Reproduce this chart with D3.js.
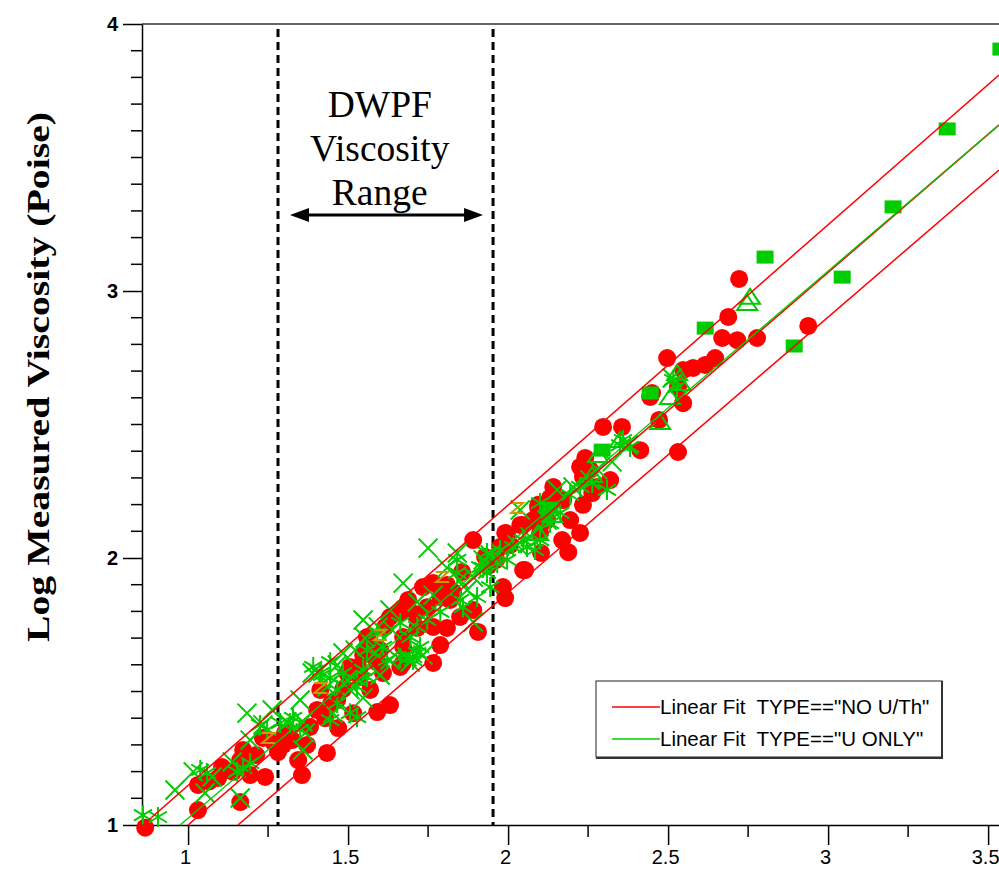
<!DOCTYPE html>
<html><head><meta charset="utf-8">
<script src="https://cdn.jsdelivr.net/npm/d3@7"></script>
<style>html,body{margin:0;padding:0;background:#fff;}svg{display:block;}</style>
</head><body>
<svg id="chart" width="999" height="871"></svg>
<script>
// ---------------- DATA ----------------
const xMajorTicks = [1, 1.5, 2, 2.5, 3, 3.5];
const xMinorTicks = [1.25, 1.75, 2.25, 2.75, 3.25];
const yMajorTicks = [1, 2, 3, 4];
const yMinorTicks = [1.1,1.2,1.3,1.4,1.5,1.6,1.7,1.8,1.9,2.1,2.2,2.3,2.4,2.5,2.6,2.7,2.8,2.9,3.1,3.2,3.3,3.4,3.5,3.6,3.7,3.8,3.9];
const yTitle = "Log Measured Viscosity (Poise)";
const annotationLines = ["DWPF", "Viscosity", "Range"];
const dwpfRange = [1.281, 1.953];
const legendLabels = ['Linear Fit  TYPE=="NO U/Th"', 'Linear Fit  TYPE=="U ONLY"'];

// red filled circles (TYPE == "NO U/Th")
const redCircles = [
[0.866,0.99],[1.031,1.056],[1.031,1.15],[1.106,1.217],[1.163,1.086],[1.172,1.281],[1.194,1.187],[1.241,1.18],[1.163,1.243],[1.281,1.273],[1.297,1.30],[1.356,1.187],[1.434,1.27],[1.234,1.326],[1.266,1.311],[1.413,1.506],[1.466,1.468],[1.403,1.431],[1.428,1.40],[1.469,1.363],[1.516,1.419],[1.591,1.423],[1.631,1.449],[1.569,1.506],[1.538,1.554],[1.609,1.569],[1.672,1.607],[1.766,1.607],[1.506,1.592],[1.891,2.067],[2.044,2.124],[1.991,2.094],[2.006,2.049],[2.078,2.142],[2.094,2.187],[2.141,2.266],[2.053,1.955],[1.984,1.891],[1.991,1.85],[1.734,1.891],[1.766,1.906],[1.809,1.899],[1.828,1.873],[1.819,1.843],[1.788,1.854],[1.688,1.843],[1.672,1.813],[1.663,1.794],[1.747,1.816],[1.85,1.779],[1.891,1.805],[1.906,1.723],[1.809,1.738],[1.766,1.742],[1.716,1.738],[1.631,1.779],[1.616,1.742],[1.672,1.704],[1.559,1.704],[1.563,1.682],[1.60,1.655],[1.672,1.667],[1.788,1.674],[1.531,1.592],[1.497,1.569],[1.663,1.592],[1.547,1.637],
[2.297,2.491],[2.356,2.491],[2.413,2.404],[2.531,2.397],[2.547,2.58],[2.45,2.618],[2.472,2.517],[2.241,2.375],[2.225,2.341],[2.256,2.33],[2.234,2.303],[2.319,2.292],[2.278,2.266],[2.094,2.199],[2.131,2.225],[2.038,2.124],[1.997,2.086],[1.975,2.041],[2.225,2.094],[2.188,2.022],[2.047,1.955],[1.928,2.004],[2.10,2.094],[2.122,2.142],
[2.497,2.749],[2.688,2.903],[2.722,3.045],[2.669,2.824],[2.716,2.816],[2.778,2.824],[2.938,2.869],[2.647,2.749],[2.616,2.723],[2.578,2.712],[2.547,2.704],[2.531,2.64],[2.444,2.603],
[1.856,1.948],[1.938,1.97],[1.963,1.993],[2.103,2.019],[2.169,2.067],[2.194,2.142],[2.234,2.199],[2.263,2.243],[2.172,2.217],
[1.094,1.176],[1.141,1.199],[1.325,1.318],[1.381,1.367],[1.344,1.243],[1.372,1.30],
[1.066,1.163],[1.213,1.262],[1.303,1.345],[1.447,1.455],[1.485,1.51],[1.59,1.61],[1.709,1.79]
];

// green crosses
const greenCrosses = [
[1.053,1.12],[1.163,1.101],[1.016,1.199],[1.075,1.18],[1.138,1.236],[1.184,1.419],[1.194,1.318],[1.234,1.375],[1.359,1.281],[1.366,1.345],[1.406,1.569],[1.434,1.517],[1.466,1.599],[1.497,1.543],[1.547,1.476],[1.359,1.386],[1.309,1.386],[1.453,1.419],[1.506,1.506],[1.60,1.562],[1.631,1.618],[1.684,1.629],[1.734,1.637],[1.75,2.037],[1.841,2.019],[1.809,1.963],[1.944,2.011],[1.922,1.993],[1.891,1.929],[1.766,1.861],[1.716,1.835],[1.631,1.805],[1.872,1.88],[1.891,1.76],[1.594,1.742],[1.547,1.768],[1.638,1.73],[1.553,1.70],[1.484,1.644],[1.584,1.644],[1.388,1.569],[1.694,1.61],[2.153,2.255],[2.203,2.266],[2.122,2.142],[2.069,2.079],[2.028,2.049],[2.513,2.674],
[0.959,1.131],[1.263,1.431],[1.35,1.468],[1.522,1.655],[1.672,1.906],[1.85,1.918],[2.038,2.18],[2.256,2.292],[2.281,2.33],[2.325,2.36],[2.375,2.423]
];

// green asterisks
const greenStars = [
[0.859,1.037],[0.906,1.03],[1.038,1.206],[1.059,1.195],[1.153,1.199],[1.172,1.213],[1.194,1.232],[1.247,1.356],[1.225,1.375],[1.288,1.382],[1.319,1.382],[1.328,1.401],[1.35,1.356],[1.419,1.562],[1.444,1.551],[1.484,1.569],[1.528,1.543],[1.559,1.554],[1.547,1.581],[1.528,1.517],[1.466,1.506],[1.466,1.457],[1.506,1.419],[1.444,1.393],[1.528,1.404],[1.663,1.625],[1.703,1.618],[1.716,1.644],[1.841,1.993],[1.841,1.944],[1.934,2.019],[1.966,1.981],[1.934,1.944],[1.944,1.891],[1.903,1.854],[1.85,1.843],[1.859,1.816],[1.788,1.798],[1.747,1.768],[1.716,1.742],[1.663,1.757],[1.591,1.719],[1.694,1.704],[1.725,1.667],[1.609,1.667],[1.559,1.655],[1.622,1.618],[1.444,1.61],[1.391,1.592],[1.413,1.569],[1.703,1.629],[1.913,1.966],[1.975,2.03],[1.997,1.993],[2.059,2.041],[2.10,2.067],[2.122,2.154],[2.10,2.206],[2.359,2.442],[2.381,2.416],[2.35,2.423],[2.309,2.255],[2.263,2.281],[2.225,2.266],[2.194,2.236],[2.163,2.169],[2.131,2.131],[2.084,2.03],[2.047,2.067],[2.016,2.041],[1.922,1.963],[2.516,2.667],[2.528,2.64]
];

// green filled squares
const greenSquares = [
[3.54,3.906],[3.372,3.607],[3.203,3.315],[3.044,3.052],[2.803,3.127],[2.894,2.794],[2.616,2.861],[2.444,2.618],[2.294,2.404],[2.131,2.187]
];

// green open triangles
const greenTriangles = [
[2.756,2.978],[2.747,2.955],[2.528,2.693],[2.538,2.655],[2.506,2.603],[2.475,2.509],[2.281,2.386],[2.263,2.311],[2.094,2.094],[2.35,2.442],[2.138,2.161]
];

// orange "Z" markers
const orangeZ = [
[2.028,2.187],[1.794,1.929],[1.60,1.712],[1.413,1.513],[1.25,1.326]
];

// fit lines (endpoints in data units)
const redFitUpper  = [[0.859,1.0],[3.534,3.809]];
const redFitCenter = [[1.0,1.0],[3.534,3.622]];
const redFitLower  = [[1.156,1.0],[3.534,3.453]];
const greenFit     = [[0.975,1.0],[3.534,3.622]];

// ---------------- DRAW ----------------
(function(){
const svg = d3.select("#chart");
const pL = 142, pR = 999, pT = 24, pB = 825;
const x = d3.scaleLinear().domain([0.856, 3.534]).range([pL, pR]);
const y = d3.scaleLinear().domain([1, 4]).range([pB, pT]);

const RED = "#ff0000", GREEN = "#00cc00", GOLD = "#cc9900";

svg.append("defs").append("clipPath").attr("id","plotclip")
  .append("rect").attr("x",pL).attr("y",pT).attr("width",pR-pL).attr("height",pB-pT);

// top frame line
svg.append("line").attr("x1",pL).attr("x2",pR).attr("y1",pT).attr("y2",pT)
  .attr("stroke","#333").attr("stroke-width",1.5);

// x axis (major ticks + labels)
const xAxisG = svg.append("g").attr("transform",`translate(0,${pB})`)
  .call(d3.axisBottom(x).tickValues(xMajorTicks).tickSize(20).tickSizeOuter(0).tickPadding(5).tickFormat(d3.format("")));
xAxisG.selectAll("path.domain").attr("stroke","#000").attr("stroke-width",1.5);
xAxisG.selectAll(".tick line").attr("stroke","#000").attr("stroke-width",1.5);
xAxisG.selectAll("text").attr("font-family","'Liberation Sans', Arial, sans-serif").attr("font-size",20).attr("fill","#000").attr("dx",-3);
// x minor ticks
svg.selectAll("line.xminor").data(xMinorTicks).enter().append("line").attr("class","xminor")
  .attr("x1",d=>x(d)).attr("x2",d=>x(d)).attr("y1",pB).attr("y2",pB+12)
  .attr("stroke","#000").attr("stroke-width",1.5);

// y axis
const yAxisG = svg.append("g").attr("transform",`translate(${pL},0)`)
  .call(d3.axisLeft(y).tickValues(yMajorTicks).tickSize(19).tickSizeOuter(0).tickPadding(5).tickFormat(d3.format("d")));
yAxisG.selectAll("path.domain").attr("stroke","#000").attr("stroke-width",1.5);
yAxisG.selectAll(".tick line").attr("stroke","#000").attr("stroke-width",1.5);
yAxisG.selectAll("text").attr("font-family","'Liberation Sans', Arial, sans-serif").attr("font-size",20).attr("font-weight","bold").attr("fill","#000");
svg.selectAll("line.yminor").data(yMinorTicks).enter().append("line").attr("class","yminor")
  .attr("x1",pL-11).attr("x2",pL).attr("y1",d=>y(d)).attr("y2",d=>y(d))
  .attr("stroke","#000").attr("stroke-width",1.5);

// y title
svg.append("text")
  .attr("transform",`translate(49,377) rotate(-90)`)
  .attr("text-anchor","middle")
  .attr("font-family","'Liberation Serif', 'Times New Roman', serif")
  .attr("font-weight","bold").attr("font-size",32)
  .attr("textLength",530).attr("lengthAdjust","spacingAndGlyphs")
  .text(yTitle);

// dashed DWPF range lines
svg.selectAll("line.dwpf").data(dwpfRange).enter().append("line")
  .attr("class","dwpf")
  .attr("x1",d=>x(d)).attr("x2",d=>x(d)).attr("y1",pT+5).attr("y2",pB)
  .attr("stroke","#000").attr("stroke-width",3).attr("stroke-dasharray","8,5");

// annotation text
const annoX = (dwpfRange[0]+dwpfRange[1])/2 - 0.018;
svg.selectAll("text.anno").data(annotationLines).enter().append("text")
  .attr("class","anno")
  .attr("x",x(annoX)).attr("y",(d,i)=>117+i*44)
  .attr("text-anchor","middle")
  .attr("font-family","'Liberation Serif', 'Times New Roman', serif")
  .attr("font-size",37.5).attr("fill","#000").text(d=>d);

// double arrow
const ay = 215;
const ax1 = x(dwpfRange[0]) + 12, ax2 = x(dwpfRange[1]) - 10;
svg.append("line").attr("x1",ax1+10).attr("x2",ax2-10).attr("y1",ay).attr("y2",ay)
  .attr("stroke","#000").attr("stroke-width",3);
svg.append("path").attr("d",`M${ax1},${ay}L${ax1+19},${ay-7}L${ax1+19},${ay+7}Z`).attr("fill","#000");
svg.append("path").attr("d",`M${ax2},${ay}L${ax2-19},${ay-7}L${ax2-19},${ay+7}Z`).attr("fill","#000");

// markers
const gm = svg.append("g");
gm.selectAll("circle.red").data(redCircles).enter().append("circle")
  .attr("class","red").attr("cx",d=>x(d[0])).attr("cy",d=>y(d[1])).attr("r",9).attr("fill",RED);

gm.selectAll("rect.sq").data(greenSquares).enter().append("rect")
  .attr("class","sq").attr("x",d=>x(d[0])-8.5).attr("y",d=>y(d[1])-6.5).attr("width",17).attr("height",13).attr("fill",GREEN);

gm.selectAll("path.tri").data(greenTriangles).enter().append("path")
  .attr("class","tri").attr("transform",d=>`translate(${x(d[0])},${y(d[1])})`)
  .attr("d","M0,-8L10,7L-10,7Z").attr("fill","none").attr("stroke",GREEN).attr("stroke-width",2);

gm.selectAll("path.cross").data(greenCrosses).enter().append("path")
  .attr("class","cross").attr("transform",d=>`translate(${x(d[0])},${y(d[1])})`)
  .attr("d","M-9.5,-9.5L9.5,9.5M-9.5,9.5L9.5,-9.5").attr("stroke",GREEN).attr("stroke-width",2).attr("fill","none");

gm.selectAll("path.star").data(greenStars).enter().append("path")
  .attr("class","star").attr("transform",d=>`translate(${x(d[0])},${y(d[1])})`)
  .attr("d","M0,-10V10M-9,-5.5L9,5.5M-9,5.5L9,-5.5").attr("stroke",GREEN).attr("stroke-width",2).attr("fill","none");

gm.selectAll("path.z").data(orangeZ).enter().append("path")
  .attr("class","z").attr("transform",d=>`translate(${x(d[0])},${y(d[1])})`)
  .attr("d","M-6,-5H6L-6,5H7").attr("stroke",GOLD).attr("stroke-width",2).attr("fill","none");

// fit lines
const line = d3.line().x(d=>x(d[0])).y(d=>y(d[1]));
const gl = svg.append("g").attr("clip-path","url(#plotclip)");
[redFitUpper, redFitCenter, redFitLower].forEach(f=>{
  gl.append("path").attr("d",line(f)).attr("stroke",RED).attr("stroke-width",1.5).attr("fill","none");
});
gl.append("path").attr("d",line(greenFit)).attr("stroke",GREEN).attr("stroke-width",1.3).attr("fill","none");

// legend
const lg = svg.append("g");
lg.append("rect").attr("x",596).attr("y",681).attr("width",346).attr("height",76)
  .attr("fill","#fff").attr("stroke","#222").attr("stroke-width",1);
lg.append("line").attr("x1",942).attr("x2",942).attr("y1",681).attr("y2",758).attr("stroke","#333").attr("stroke-width",2);
lg.append("line").attr("x1",596).attr("x2",943).attr("y1",758).attr("y2",758).attr("stroke","#333").attr("stroke-width",2);
const legColors = [RED, GREEN];
legendLabels.forEach((t,i)=>{
  const ly = 707 + i*32;
  lg.append("line").attr("x1",612).attr("x2",660).attr("y1",ly).attr("y2",ly).attr("stroke",legColors[i]).attr("stroke-width",1.5);
  lg.append("text").attr("x",660).attr("y",ly).attr("dy","0.36em")
    .attr("xml:space","preserve").style("white-space","pre")
    .attr("font-family","'Liberation Sans', Arial, sans-serif").attr("font-size",20.5).attr("fill","#000").text(t);
});
})();
</script>
</body></html>
